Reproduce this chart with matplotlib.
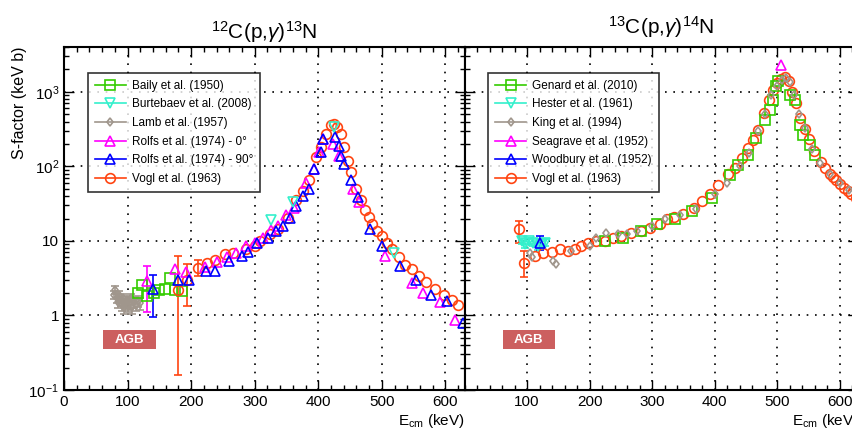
import numpy as np
import matplotlib
matplotlib.use("Agg")
import matplotlib.pyplot as plt
from matplotlib.lines import Line2D
from matplotlib.patches import Rectangle
from matplotlib.ticker import MultipleLocator, LogLocator, NullFormatter

plt.rcParams['font.family'] = ['Liberation Sans', 'DejaVu Sans']
plt.rcParams['mathtext.fontset'] = 'custom'
plt.rcParams['mathtext.rm'] = 'Liberation Sans'
plt.rcParams['mathtext.it'] = 'Liberation Sans:italic'

# ---- 12C(p,g)13N ----
baily_x = [117, 122, 130, 141, 149, 159, 167, 175, 186]
baily_y = [2.0, 2.6, 1.8, 2.0, 2.2, 2.3, 3.2, 2.2, 2.1]

burt_x = [326, 360, 425, 519]
burt_y = [19, 33, 340, 6.9]

lamb_x = [78, 81, 83, 85, 87, 89, 91, 93, 95, 97, 99, 101, 103, 105, 107, 110, 113, 116, 119]
lamb_y = [1.9, 2.2, 1.7, 1.5, 1.9, 1.6, 1.4, 1.7, 1.3, 1.5, 1.6, 1.35, 1.45, 1.7, 1.3, 1.5, 1.4, 1.55, 1.45]
lamb_err = [0.25] * len(lamb_x)

rolfs0_x = [130, 175, 192, 222, 240, 256, 270, 286, 300, 313, 326, 337, 350, 362, 380, 393, 401,
            407, 423, 433, 454, 464, 505, 547, 565, 591, 615]
rolfs0_y = [2.9, 4.2, 3.8, 4.5, 5.2, 6.0, 6.8, 8.5, 9.5, 11, 14, 16, 22, 28, 60, 93, 155,
            236, 200, 140, 50, 33, 6.3, 2.7, 2.0, 1.5, 0.87]
rolfs0_lo = [1.8] + [0] * 26
rolfs0_hi = [1.7] + [0] * 26

rolfs90_x = [140, 180, 196, 224, 238, 259, 280, 290, 303, 321, 334, 344, 355, 365, 376, 386,
             394, 404, 408, 427, 433, 436, 441, 451, 463, 481, 501, 528, 554, 578, 602, 627]
rolfs90_y = [2.24, 3.0, 3.0, 3.9, 3.9, 5.4, 6.3, 7.0, 9.5, 11, 13.6, 15.9, 20.6, 29.6, 40.5, 50,
             93, 155, 236, 250, 190, 140, 109, 65, 39, 14.5, 8.6, 4.6, 3.0, 1.9, 1.55, 0.8]
rolfs90_lo = [1.3] + [0] * 31
rolfs90_hi = [1.3] + [0] * 31

vogl_x = [180, 193, 211, 225, 238, 254, 266, 286, 300, 308, 324, 337, 352, 365, 376, 386, 396,
          404, 412, 420, 425, 430, 435, 441, 446, 451, 459, 467, 474, 480, 485, 493, 500, 508,
          516, 527, 537, 547, 558, 570, 584, 597, 610, 620]
vogl_y = [2.2, 3.0, 4.4, 5.1, 5.6, 6.6, 6.9, 7.8, 8.5, 10, 12.3, 14.5, 20.6, 35, 47, 65, 134,
          183, 275, 356, 375, 340, 275, 183, 120, 84, 50, 35, 26, 21, 17, 13.6, 11.7, 9.5,
          7.8, 6.0, 4.8, 4.2, 3.4, 2.8, 2.24, 1.9, 1.63, 1.38]
vogl_lo = [2.04, 1.66, 1.0] + [0] * 41
vogl_hi = [4.1, 1.9, 1.2] + [0] * 41

# ---- 13C(p,g)14N ----
genard_x = [224, 253, 282, 308, 337, 364, 395, 424, 437, 453, 466, 480, 488, 493, 498, 502,
            520, 528, 536, 541, 552, 560]
genard_y = [10, 11, 13.6, 17, 19.5, 25.5, 38, 76, 103, 141, 240, 420, 575, 790, 1190, 1400,
            920, 790, 360, 265, 195, 141]

hester_x = [92, 97, 103, 110, 118, 124, 129]
hester_y = [10, 9, 10, 9.5, 8.5, 9, 9.5]
hester_err = [1.0] * 7

king_x = [105, 108, 142, 147, 171, 200, 210, 226, 245, 260, 276, 300, 321, 345, 370, 400, 420,
          440, 455, 470, 480, 490, 500, 508, 514, 520, 527, 535, 545, 556, 568, 585, 600, 615, 628]
king_y = [6.9, 6.0, 5.4, 4.9, 7.3, 8.6, 11, 12.9, 12.3, 12.3, 13.6, 15.9, 20, 22, 27, 42, 60,
          100, 150, 300, 500, 900, 1200, 1450, 1550, 1350, 900, 500, 330, 170, 110, 80, 60, 48, 40]

seagrave_x = [506]
seagrave_y = [2280]

woodbury_x = [121]
woodbury_y = [9.5]
woodbury_err = [2.0]

voglr_x = [87, 95, 113, 126, 140, 153, 166, 176, 187, 197, 210, 224, 237, 250, 266, 282, 297,
           313, 324, 335, 350, 367, 379, 393, 405, 421, 432, 444, 453, 461, 469, 479, 487, 493,
           499, 506, 513, 519, 524, 530, 537, 544, 551, 559, 570, 577, 584, 590, 594, 600, 607,
           613, 618, 626]
voglr_y = [14.4, 5.1, 6.3, 6.9, 7.2, 7.7, 7.3, 7.7, 8.6, 9.5, 10, 10, 11, 11.7, 12.9, 13.6, 15,
           16.8, 19.6, 21, 23, 28, 34, 42, 57, 79, 95, 130, 175, 225, 309, 520, 780, 1050,
           1300, 1500, 1600, 1400, 1000, 720, 450, 320, 230, 160, 114, 95, 80, 72, 65, 58, 52,
           47, 43, 38]
voglr_lo = [5.0, 1.8] + [0] * 52
voglr_hi = [4.2, 2.2] + [0] * 52

GREEN = "#33cc00"
CYAN = "#33f0cc"
GREY = "#a0968c"
MAGENTA = "#ff00ff"
BLUE = "#0000ff"
ORANGE = "#ff4411"

fig = plt.figure(figsize=(8.52, 4.30), dpi=100)
ax1 = fig.add_axes([0.0751, 0.0930, 0.4701, 0.7977])
ax2 = fig.add_axes([0.5452, 0.0930, 0.4624, 0.7977])


def draw(ax, x, y, color, marker, ms, lo=None, hi=None):
    x = np.asarray(x, float)
    y = np.asarray(y, float)
    if lo is not None:
        lo = np.asarray(lo, float)
        hi = np.asarray(hi, float)
        m = (lo > 0) | (hi > 0)
        ax.errorbar(x[m], y[m], yerr=[lo[m], hi[m]], fmt='none', ecolor=color,
                    elinewidth=1.2, capsize=3, capthick=1.2, zorder=3)
    ax.plot(x, y, ls='none', marker=marker, ms=ms, mfc='none', mec=color, mew=1.2, zorder=4)


draw(ax1, lamb_x, lamb_y, GREY, 'd', 4.5, lamb_err, lamb_err)
draw(ax1, baily_x, baily_y, GREEN, 's', 7.5)
draw(ax1, vogl_x, vogl_y, ORANGE, 'o', 7, vogl_lo, vogl_hi)
draw(ax1, rolfs0_x, rolfs0_y, MAGENTA, '^', 7.5, rolfs0_lo, rolfs0_hi)
draw(ax1, rolfs90_x, rolfs90_y, BLUE, '^', 7.5, rolfs90_lo, rolfs90_hi)
draw(ax1, burt_x, burt_y, CYAN, 'v', 7.5)

draw(ax2, voglr_x, voglr_y, ORANGE, 'o', 7, voglr_lo, voglr_hi)
draw(ax2, genard_x, genard_y, GREEN, 's', 7)
draw(ax2, king_x, king_y, GREY, 'd', 4.5)
draw(ax2, hester_x, hester_y, CYAN, 'v', 7.5, hester_err, hester_err)
draw(ax2, woodbury_x, woodbury_y, BLUE, '^', 7.5, woodbury_err, woodbury_err)
draw(ax2, seagrave_x, seagrave_y, MAGENTA, '^', 7.5)

for ax in (ax1, ax2):
    ax.set_xlim(0, 630)
    ax.set_yscale('log')
    ax.set_ylim(0.1, 4000)
    ax.xaxis.set_major_locator(MultipleLocator(100))
    ax.xaxis.set_minor_locator(MultipleLocator(20))
    ax.yaxis.set_major_locator(LogLocator(base=10, numticks=10))
    ax.yaxis.set_minor_locator(LogLocator(base=10, subs=np.arange(2, 10), numticks=20))
    ax.yaxis.set_minor_formatter(NullFormatter())
    ax.tick_params(which='both', direction='in', top=True, right=True, labelsize=11)
    ax.tick_params(which='major', length=7, width=1)
    ax.tick_params(which='minor', length=3.5, width=1)
    ax.grid(True, which='major', color='black', linestyle=(0, (1, 4)), linewidth=1.2)
    for s in ax.spines.values():
        s.set_linewidth(1.5)
    ax.set_xlabel('E$_{\\mathrm{cm}}$ (keV)', loc='right', fontsize=11, labelpad=2)
    ax.add_patch(Rectangle((62, 0.36), 82, 0.27, facecolor='#cc5f5f', edgecolor='none', zorder=5))
    ax.text(103, 0.465, 'AGB', color='white', fontsize=9.5, fontweight='bold',
            ha='center', va='center', zorder=6)

ax1.set_xticks([0, 100, 200, 300, 400, 500, 600])
ax2.set_xticks([100, 200, 300, 400, 500, 600])
ax1.set_yticks([0.1, 1, 10, 100, 1000])
ax1.set_yticklabels(['10$^{-1}$', '1', '10', '10$^{2}$', '10$^{3}$'])
ax2.set_yticks([0.1, 1, 10, 100, 1000])
ax2.set_yticklabels([])
ax1.set_ylabel('S-factor (keV b)', loc='top', fontsize=11.5, labelpad=1)

ax1.set_title('$^{12}$C(p,$\\gamma$)$^{13}$N', fontsize=15, pad=6)
ax2.text(0.5, 1.02, '$^{13}$C(p,$\\gamma$)$^{14}$N', transform=ax2.transAxes,
         fontsize=15, ha='center', va='bottom')


def handles(specs):
    return [Line2D([], [], color=c, marker=m, ms=ms, mfc='none', mec=c, mew=1.2, lw=1.2)
            for c, m, ms in specs]


labels1 = ['Baily et al. (1950)', 'Burtebaev et al. (2008)', 'Lamb et al. (1957)',
           'Rolfs et al. (1974) - 0°', 'Rolfs et al. (1974) - 90°',
           'Vogl et al. (1963)']
labels2 = ['Genard et al. (2010)', 'Hester et al. (1961)', 'King et al. (1994)',
           'Seagrave et al. (1952)', 'Woodbury et al. (1952)', 'Vogl et al. (1963)']
spec = [(GREEN, 's', 7), (CYAN, 'v', 7), (GREY, 'd', 4.5), (MAGENTA, '^', 7),
        (BLUE, '^', 7), (ORANGE, 'o', 7)]

for ax, labs in ((ax1, labels1), (ax2, labels2)):
    leg = ax.legend(handles(spec), labs, loc='upper left', bbox_to_anchor=(0.06, 0.925),
                    fontsize=8.5, frameon=True, fancybox=False, edgecolor='black',
                    handlelength=2.6, labelspacing=0.56, borderpad=0.6, handletextpad=0.5,
                    borderaxespad=0)
    leg.get_frame().set_linewidth(1.2)
    leg.set_zorder(10)

fig.savefig('out.png', dpi=100)
